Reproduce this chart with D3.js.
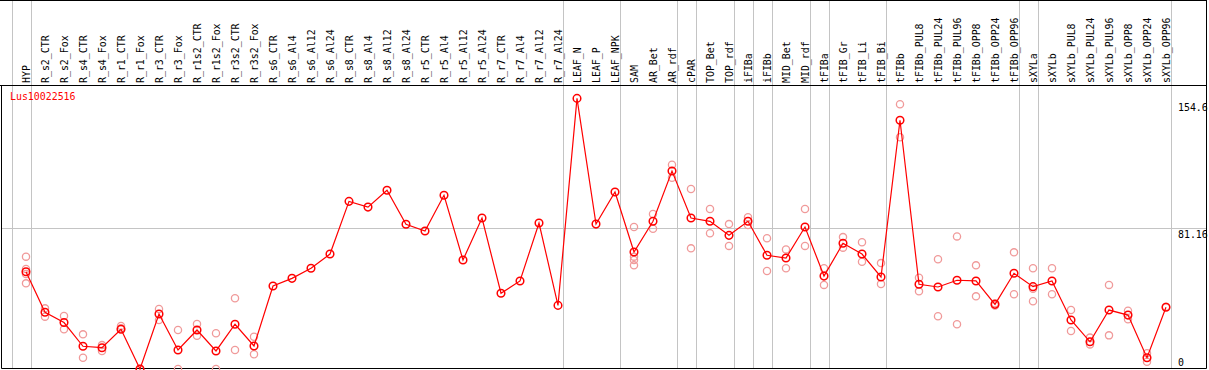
<!DOCTYPE html>
<html><head><meta charset="utf-8">
<script src="https://cdn.jsdelivr.net/npm/d3@7"></script>
<style>
html,body{margin:0;padding:0;background:#fff;}
svg{display:block;}
text{font-family:"DejaVu Sans Mono",monospace;font-size:11px;}
</style></head>
<body>
<script>
const geneName = "Lus10022516";
const categories = ["HYP","R_s2_CTR","R_s2_Fox","R_s4_CTR","R_s4_Fox","R_r1_CTR","R_r1_Fox","R_r3_CTR","R_r3_Fox","R_r1s2_CTR","R_r1s2_Fox","R_r3s2_CTR","R_r3s2_Fox","R_s6_CTR","R_s6_Al4","R_s6_Al12","R_s6_Al24","R_s8_CTR","R_s8_Al4","R_s8_Al12","R_s8_Al24","R_r5_CTR","R_r5_Al4","R_r5_Al12","R_r5_Al24","R_r7_CTR","R_r7_Al4","R_r7_Al12","R_r7_Al24","LEAF_N","LEAF_P","LEAF_NPK","SAM","AR_Bet","AR_rdf","cPAR","TOP_Bet","TOP_rdf","iFIBa","iFIBb","MID_Bet","MID_rdf","tFIBa","tFIB_Gr","tFIB_Li","tFIB_Bi","tFIBb","tFIBb_PUL8","tFIBb_PUL24","tFIBb_PUL96","tFIBb_OPP8","tFIBb_OPP24","tFIBb_OPP96","sXYLa","sXYLb","sXYLb_PUL8","sXYLb_PUL24","sXYLb_PUL96","sXYLb_OPP8","sXYLb_OPP24","sXYLb_OPP96"];
const means = [56.1,32.7,26.8,13.1,12.3,22.9,0,31.7,11.0,22.5,10.4,25.8,13.3,47.9,52.3,58.1,66.3,96.7,93.4,103.1,83.5,79.6,100.2,62.9,87.1,43.7,50.8,84.2,36.7,156.1,83.6,102.1,67.5,85.2,114.2,87.1,85.2,77.1,85.2,65.6,64.0,81.9,53.6,72.5,66.3,53.1,143.5,48.9,47.3,51.2,50.8,37.3,55.2,47.5,50.8,28.3,15.7,34.0,31.1,6.5,35.6];
const replicates = [
 [64.8,57.7,54.8,49.4],[35.0,30.2],[30.6,22.9],[20.0,6.5],[13.8,10.4],[24.8,23.5],[0],[34.6,28.3],[22.5,0],[26.0,19.2],[20.6,0],[40.8,11.0],[18.6,8.5],
 [],[],[],[],[],[],[],[],[],[],[],[],[],[],[],[],
 [],[],[],
 [81.9,64.8,62.9,59.8],[89.4,80.9],[117.8,110.3],[103.8,69.6],[92.3,78.3],[83.6,71.0],[87.5,83.1],[75.4,56.5],[69.0,58.1],[92.3,71.0],
 [58.1,48.5],[76.1,70.0],[73.1,61.9],[61.1,49.0],[152.7,133.7],[52.7,44.8],[63.3,30.4],[76.5,25.8],[59.8,41.9],[37.9,36.7],[67.3,43.1],
 [58.1,46.3,39.1],[58.1,43.1],[34.0,21.9],[18.1,14.2],[48.5,19.4],[33.6,28.7],[9.1,4.2],[35.9]
];
const groupEnds = ["HYP","R_r7_Al24","LEAF_NPK","AR_rdf","cPAR","TOP_rdf","iFIBa","iFIBb","MID_rdf","tFIBa","tFIB_Bi","tFIBb_OPP96","sXYLa","sXYLb_OPP96"];
const axisTicks = [154.6, 81.16, 0];
const tickLabels = ["154.6","81.16","0"];

const W = 1209, H = 370;
const headerBottom = 85.5, plotBottom = 368.5, leftEdge = 1.5, rightEdge = 1206.5;

const svg = d3.select("body").append("svg").attr("width", W).attr("height", H);

const x = d3.scalePoint().domain(categories).range([26, 1166]);
const step = x.step();
const y = d3.scaleLinear().domain([0, 154.6]).range([369, 101]);

// vertical group separators
const sepX = [x("HYP") - step + 4.5].concat(groupEnds.map(c => x(c) + 4.5));
svg.append("g").selectAll("line").data(sepX).join("line")
  .attr("x1", d => Math.round(d) + 0.5).attr("x2", d => Math.round(d) + 0.5)
  .attr("y1", 0).attr("y2", plotBottom)
  .attr("stroke", "#c4c4c4").attr("stroke-width", 1);

// horizontal gridline at middle tick
svg.append("line")
  .attr("x1", leftEdge).attr("x2", rightEdge)
  .attr("y1", Math.round(y(81.16)) + 0.5).attr("y2", Math.round(y(81.16)) + 0.5)
  .attr("stroke", "#c4c4c4").attr("stroke-width", 1);

// frame
svg.append("line").attr("x1", 0).attr("x2", rightEdge).attr("y1", 0.5).attr("y2", 0.5).attr("stroke", "#000");
svg.append("line").attr("x1", 0).attr("x2", rightEdge).attr("y1", headerBottom).attr("y2", headerBottom).attr("stroke", "#000");
svg.append("line").attr("x1", leftEdge).attr("x2", leftEdge).attr("y1", headerBottom).attr("y2", plotBottom).attr("stroke", "#000");
svg.append("line").attr("x1", rightEdge).attr("x2", rightEdge).attr("y1", 0).attr("y2", plotBottom).attr("stroke", "#000");
svg.append("line").attr("x1", leftEdge).attr("x2", rightEdge).attr("y1", plotBottom).attr("y2", plotBottom).attr("stroke", "#000");

// header labels
svg.append("g").selectAll("text").data(categories).join("text")
  .attr("transform", d => `translate(${x(d) + 4},83) rotate(-90) scale(0.9,1)`)
  .attr("text-anchor", "start")
  .attr("fill", "#000")
  .text(d => d);

// right axis labels
svg.append("g").selectAll("text").data(axisTicks).join("text")
  .attr("transform", (d, i) => `translate(1178,${d === 0 ? 366 : y(d) + 10}) scale(0.9,1)`)
  .attr("fill", "#000")
  .text((d, i) => tickLabels[i]);

// gene name
svg.append("text").attr("transform", "translate(10,100) scale(0.9,1)")
  .attr("fill", "#ff0000").text(geneName);

// replicate points
const repPts = [];
categories.forEach((c, i) => replicates[i].forEach(v => repPts.push({c, v})));
svg.append("g").selectAll("circle").data(repPts).join("circle")
  .attr("cx", d => x(d.c)).attr("cy", d => y(d.v)).attr("r", 3.6)
  .attr("fill", "none").attr("stroke", "#f09a9a").attr("stroke-width", 1.3);

// mean line
const line = d3.line().x((d, i) => x(categories[i])).y(d => y(d));
svg.append("path").datum(means).attr("d", line)
  .attr("fill", "none").attr("stroke", "#ff0000").attr("stroke-width", 1.2);

// mean points
svg.append("g").selectAll("circle").data(means).join("circle")
  .attr("cx", (d, i) => x(categories[i])).attr("cy", d => y(d)).attr("r", 3.8)
  .attr("fill", "none").attr("stroke", "#ff0000").attr("stroke-width", 1.5);
</script>
</body></html>
